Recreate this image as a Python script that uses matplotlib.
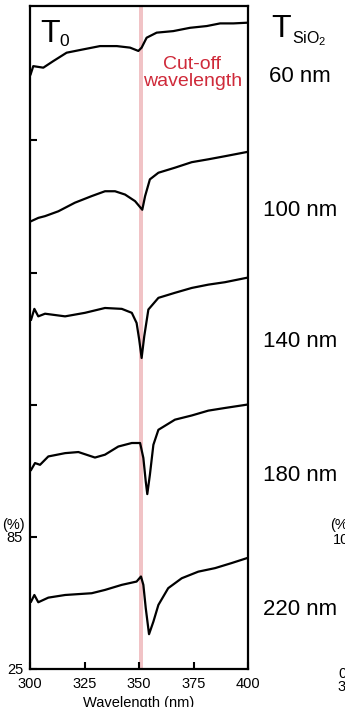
# -*- coding: utf-8 -*-
"""
Stacked transmittance spectra vs SiO2 thickness, with cut-off wavelength band.
"""
import matplotlib
matplotlib.use("Agg")
import matplotlib.pyplot as plt

plt.rcParams["font.family"] = ["Liberation Sans", "DejaVu Sans"]
plt.rcParams["mathtext.default"] = "regular"

# ------------------------- data -------------------------
# transmittance (%); each trace is shifted up by OFFSETS
THICKNESS = ["60 nm", "100 nm", "140 nm", "180 nm", "220 nm"]
OFFSETS = [240, 180, 120, 60, 0]

wl_60 = [300.3, 301.5, 306.1, 310.7, 316.8, 324.4, 332.1, 339.8, 345.9, 349.7,
         351.2, 353.5, 358.1, 365.7, 373.4, 381.1, 387.2, 393.3, 399.4]
t_60 = [55.0, 58.7, 58.0, 61.0, 64.8, 66.3, 67.8, 67.8, 67.1, 65.6,
        67.1, 71.6, 73.9, 74.6, 76.1, 76.9, 78.1, 78.1, 78.4]

wl_100 = [300.5, 303.8, 306.9, 313.0, 320.6, 328.3, 334.4, 339.0, 343.6, 348.2,
          351.5, 352.8, 355.0, 358.9, 366.5, 374.2, 381.8, 389.4, 399.4]
t_100 = [48.3, 49.8, 50.6, 52.8, 56.7, 59.7, 61.9, 61.9, 60.4, 57.4,
         53.5, 59.7, 67.3, 70.3, 72.6, 75.1, 76.4, 77.8, 79.7]

wl_140 = [300.5, 302.0, 303.8, 306.9, 316.1, 325.2, 334.4, 342.1, 346.7, 348.9,
          350.1, 351.2, 352.4, 354.3, 358.9, 366.5, 374.2, 381.8, 389.4, 399.4]
t_140 = [63.6, 68.5, 65.1, 66.3, 65.1, 66.7, 68.9, 68.5, 66.7, 62.1,
         54.5, 46.2, 56.0, 68.2, 73.5, 75.8, 78.0, 79.5, 80.6, 82.6]

wl_180 = [300.5, 302.3, 304.6, 308.4, 316.1, 322.2, 329.8, 334.4, 340.5, 346.7,
          350.5, 352.0, 353.1, 353.8, 355.0, 356.6, 358.9, 366.5, 374.2, 381.8,
          389.4, 399.4]
t_180 = [55.4, 58.5, 57.7, 61.5, 63.0, 63.5, 61.0, 62.3, 66.0, 67.6,
         67.6, 60.8, 50.1, 44.4, 53.2, 66.8, 73.6, 78.2, 80.1, 82.3,
         83.5, 85.0]

wl_220 = [300.5, 302.0, 303.8, 308.4, 316.1, 328.3, 334.4, 342.1, 348.9, 350.9,
          352.0, 353.1, 354.6, 356.6, 358.9, 363.4, 369.6, 377.2, 384.9, 392.5,
          399.4]
t_220 = [55.6, 58.6, 55.3, 57.4, 58.6, 59.4, 60.9, 63.2, 64.7, 67.0,
         63.2, 52.6, 40.8, 46.5, 54.1, 61.7, 66.2, 69.2, 70.8, 73.1,
         75.3]

WL = [wl_60, wl_100, wl_140, wl_180, wl_220]
T = [t_60, t_100, t_140, t_180, t_220]

CUTOFF = (350.0, 351.7)
X_TICKS = [300, 325, 350, 375, 400]
Y_TICKS = [25, 85, 145, 205, 265]
Y_TICKLABELS = ["25", "85", "", "", ""]

# ------------------------- figure -------------------------
W, H = 345, 707
fig = plt.figure(figsize=(W / 100, H / 100), dpi=100)
ax = fig.add_axes([30 / W, 1 - 669 / H, 218 / W, 663 / H])

ax.axvspan(*CUTOFF, color="#f1c3c6", lw=0, zorder=1)
for wl, t, off in zip(WL, T, OFFSETS):
    ax.plot(wl, [v + off for v in t], color="black", lw=1.6,
            solid_joinstyle="round", zorder=3)

ax.set_xlim(300, 400)
ax.set_ylim(25, 326)
ax.set_xticks(X_TICKS)
ax.set_yticks(Y_TICKS)
ax.set_yticklabels(Y_TICKLABELS)
ax.tick_params(direction="in", length=5, width=1.5, labelsize=10.5, pad=5)
ax.tick_params(axis="x", pad=6)
for s in ax.spines.values():
    s.set_linewidth(1.6)
ax.set_xlabel("Wavelength (nm)", fontsize=10.5, labelpad=3)

# ------------------------- labels -------------------------
def px(x, y):
    return x / W, 1 - y / H

fig.text(*px(40, 41.7), "T", fontsize=23, va="baseline")
fig.text(*px(59.5, 45.7), "0", fontsize=12.5, va="baseline")
fig.text(*px(271, 36.7), "T", fontsize=23, va="baseline")
fig.text(*px(291.5, 43.3), "$SiO_2$", fontsize=11.5, va="baseline")

red = "#cf2a3a"
fig.text(*px(192.5, 69.3), "Cut-off", fontsize=14, color=red,
         ha="center", va="baseline")
fig.text(*px(192.5, 85.5), "wavelength", fontsize=14, color=red,
         ha="center", va="baseline")

for lab, yb in zip(THICKNESS, [81.7, 216, 347, 480.7, 615]):
    fig.text(*px(300, yb), lab, fontsize=16, ha="center", va="baseline")

fig.text(*px(25, 529), "(%)", fontsize=10.5, ha="right", va="baseline")
# neighbouring panel, cut off at the right edge
fig.text(*px(330, 529), "(%)", fontsize=10.5, ha="left", va="baseline")
fig.text(*px(333, 544), "100", fontsize=10.5, ha="left", va="baseline")
fig.text(*px(338, 678), "0", fontsize=10.5, ha="left", va="baseline")
fig.text(*px(337, 691), "300", fontsize=10.5, ha="left", va="baseline")

fig.savefig("out.png", dpi=100)
